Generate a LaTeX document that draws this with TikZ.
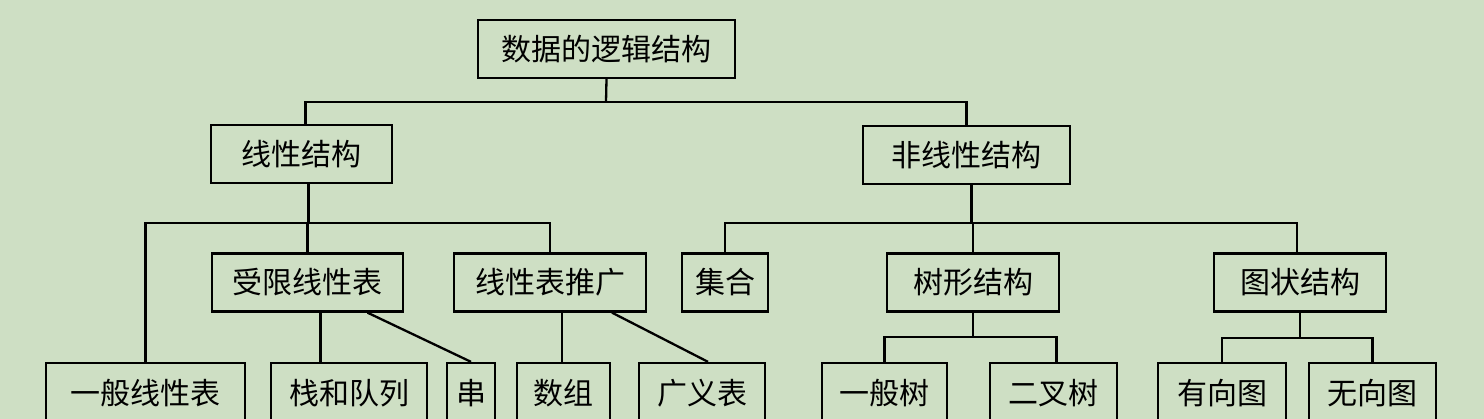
\documentclass[tikz,border=0pt]{standalone}
\usepackage{fontspec}
\newfontfamily\cjk{Noto Sans CJK SC}
\definecolor{bggreen}{RGB}{206,223,196}
\tikzset{
  box/.style={draw, line width=2.3pt, inner sep=0pt, minimum height=58pt,
    font=\cjk\fontsize{30}{31}\selectfont},
  leaf/.style={box, minimum height=60pt},
  link/.style={line width=2.3pt},
}
\begin{document}
\begin{tikzpicture}[x=1pt,y=-1pt]
  %%%%% BACKGROUND %%%%%
  \clip (0,0) rectangle (1484,419);
  \fill[bggreen] (0,0) rectangle (1484,419);

  %%%%% LEVEL 1 AND 2 %%%%%
  \node[box, minimum width=257] (root) at (606.5,49) {数据的逻辑结构};
  \node[box, minimum width=181] (lin) at (301.5,154) {线性结构};
  \node[box, minimum width=207] (nonlin) at (966.5,155) {非线性结构};

  %%%%% LEVEL 3 %%%%%
  \node[box, minimum width=191] (limited) at (307.5,282.5) {受限线性表};
  \node[box, minimum width=192] (ext) at (550,282.5) {线性表推广};
  \node[box, minimum width=86] (set) at (725,282.5) {集合};
  \node[box, minimum width=172] (tree) at (973,282.5) {树形结构};
  \node[box, minimum width=172] (graph) at (1300,282.5) {图状结构};

  %%%%% LEAVES %%%%%
  \node[leaf, minimum width=199] (general) at (145.5,393) {一般线性表};
  \node[leaf, minimum width=156] (stack) at (349,393) {栈和队列};
  \node[leaf, minimum width=48] (string) at (471,393) {串};
  \node[leaf, minimum width=93] (array) at (563.5,393) {数组};
  \node[leaf, minimum width=126] (glist) at (702,393) {广义表};
  \node[leaf, minimum width=125] (gtree) at (884.5,393) {一般树};
  \node[leaf, minimum width=127] (btree) at (1053.5,393) {二叉树};
  \node[leaf, minimum width=128] (digraph) at (1222,393) {有向图};
  \node[leaf, minimum width=127] (undigraph) at (1372.5,393) {无向图};

  %%%%% CONNECTORS %%%%%
  \coordinate (b0) at (606,102);
  \draw[link] (root.south) -- (b0);
  \draw[link] ([xshift=4]lin.north) |- (b0) -| (nonlin.north);

  \coordinate (b1) at (308,223);
  \draw[link] ([xshift=7]lin.south) -- ([xshift=7]lin.south |- b1);
  \draw[link] (general.north) |- (b1) -| (ext.north);
  \draw[link] (limited.north) -- (limited.north |- b1);
  \draw[link] ([xshift=13]limited.south) -- ([xshift=13]limited.south |- stack.north);
  \draw[link] ([xshift=60]limited.south) -- (string.north);
  \draw[link] ([xshift=12]ext.south) -- ([xshift=12]ext.south |- array.north);
  \draw[link] ([xshift=62]ext.south) -- ([xshift=6]glist.north);

  \coordinate (b2) at (972,223);
  \draw[link] ([xshift=5]nonlin.south) -- ([xshift=5]nonlin.south |- b2);
  \draw[link] (set.north) |- (b2) -| ([xshift=-3]graph.north);
  \draw[link] (tree.north) -- (tree.north |- b2);

  \coordinate (b3) at (973,337);
  \draw[link] (tree.south) -- (tree.south |- b3);
  \draw[link] (gtree.north) |- (b3) -| ([xshift=3]btree.north);
  \coordinate (b4) at (1300,338);
  \draw[link] (graph.south) -- (graph.south |- b4);
  \draw[link] (digraph.north) |- (b4) -| (undigraph.north);
\end{tikzpicture}
\end{document}
